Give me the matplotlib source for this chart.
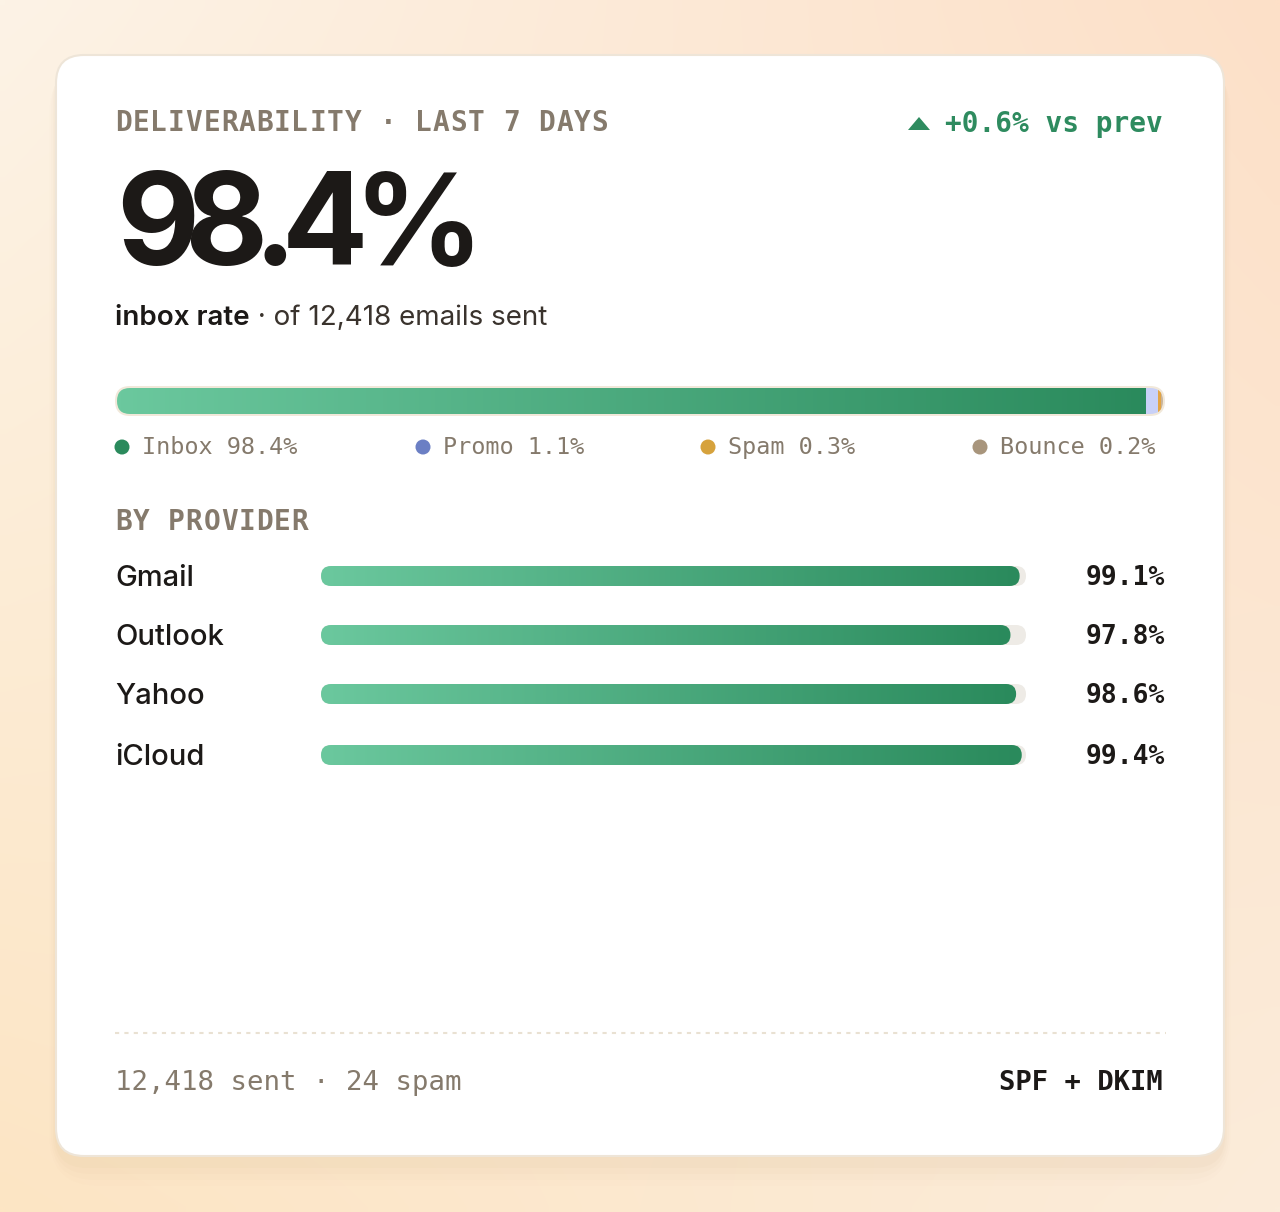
import numpy as np
import matplotlib
matplotlib.use("Agg")
import matplotlib.pyplot as plt
from matplotlib.patches import FancyBboxPatch, Polygon, Circle
from matplotlib.colors import LinearSegmentedColormap

# ---- data ----
headline = "98.4%"
total_sent = "12,418"
change = "+0.6% vs prev"
mix_labels = ["Inbox", "Promo", "Spam", "Bounce"]
mix_values = [98.4, 1.1, 0.3, 0.2]
mix_dot_colors = ["#2a8a5c", "#6b7fc4", "#d6a23c", "#a8957c"]
mix_bar_colors = [None, "#c9d1f7", "#e3a443", "#c9b49a"]
providers = ["Gmail", "Outlook", "Yahoo", "iCloud"]
provider_rates = [99.1, 97.8, 98.6, 99.4]
spam_count = 24

W, H = 1280, 1212
MONO = "DejaVu Sans Mono"
SANS = "Inter"
MUTED = "#857a6c"
INK = "#1c1917"
GREEN_CMAP = LinearSegmentedColormap.from_list("g", ["#6bc89e", "#2a8a5c"])

fig = plt.figure(figsize=(W / 100, H / 100), dpi=100)
ax = fig.add_axes([0, 0, 1, 1])
ax.set_xlim(0, W)
ax.set_ylim(H, 0)
ax.axis("off")
renderer = fig.canvas.get_renderer()

# background warm gradient (4 corners blended)
tl = np.array([252, 243, 230]) / 255
tr = np.array([253, 224, 200]) / 255
bl = np.array([253, 229, 196]) / 255
br = np.array([251, 236, 218]) / 255
yy, xx = np.mgrid[0:1:120j, 0:1:128j]
bg = (tl * ((1 - xx) * (1 - yy))[..., None] + tr * (xx * (1 - yy))[..., None]
      + bl * ((1 - xx) * yy)[..., None] + br * (xx * yy)[..., None])
ax.imshow(bg, extent=[0, W, H, 0], aspect="auto", zorder=0, interpolation="bilinear")

# card shadow + card
cx0, cy0, cx1, cy1 = 56, 55, 1224, 1156
for i, a in enumerate([0.03, 0.025, 0.018, 0.012]):
    g = 4 + i * 6
    ax.add_patch(FancyBboxPatch((cx0 - g * 0.3, cy0 + 8), cx1 - cx0 + g * 0.6, cy1 - cy0 + g,
                                boxstyle=f"round,pad=0,rounding_size={28 + g}",
                                fc="#b08a50", ec="none", alpha=a, zorder=1))
ax.add_patch(FancyBboxPatch((cx0, cy0), cx1 - cx0, cy1 - cy0,
                            boxstyle="round,pad=0,rounding_size=28",
                            fc="white", ec="#eee5d8", lw=1.5, zorder=2))


def tracked(x, y, s, track, ha="left", **kw):
    """draw text char by char with extra letter spacing (px)"""
    widths = []
    for ch in s:
        t = ax.text(0, 0, ch, **kw)
        widths.append(t.get_window_extent(renderer).width)
        t.remove()
    total_w = sum(widths) + track * (len(s) - 1)
    if ha == "right":
        x -= total_w
    for ch, w in zip(s, widths):
        ax.text(x, y, ch, ha="left", va="baseline", zorder=5, **kw)
        x += w + track


def grad_bar(x0, y0, w, h, z=4):
    """rounded bar filled with left-to-right green gradient"""
    clip = FancyBboxPatch((x0, y0), w, h, boxstyle=f"round,pad=0,rounding_size={h / 2}",
                          fc="none", ec="none")
    ax.add_patch(clip)
    im = ax.imshow(np.linspace(0, 1, 256)[None, :], cmap=GREEN_CMAP,
                   extent=[x0, x0 + w, y0 + h, y0], aspect="auto", zorder=z)
    im.set_clip_path(clip)
    return clip


# header
tracked(115, 131, "DELIVERABILITY · LAST 7 DAYS", 0.9, family=MONO, weight="bold",
        fontsize=20, color=MUTED)
ax.add_patch(Polygon([[908, 130], [930, 130], [919, 117]], closed=True,
                     fc="#2e8b5f", ec="none", zorder=5))
ax.text(1163, 132, change, family=MONO, weight="bold", fontsize=20,
        color="#2e8b5f", va="baseline", ha="right", zorder=5)

# headline number (tight tracking)
tracked(116, 265, headline, -14.5, family=SANS, weight="bold", fontsize=92, color=INK)

t1 = ax.text(115, 325, "inbox rate", family=SANS, weight="semibold", fontsize=20,
             color=INK, va="baseline", ha="left", zorder=5)
ax.annotate(f" · of {total_sent} emails sent", xycoords=t1, xy=(1, 0),
            va="bottom", ha="left", family=SANS, fontsize=20, color="#3a332d", zorder=5)

# stacked mix bar
bx0, by0, bw, bh = 117, 388, 1046, 26
ax.add_patch(FancyBboxPatch((115, 386), 1050, 30, boxstyle="round,pad=0,rounding_size=15",
                            fc="#f1e8da", ec="none", zorder=3))
clip = FancyBboxPatch((bx0, by0), bw, bh, boxstyle=f"round,pad=0,rounding_size={bh / 2}",
                      fc="none", ec="none")
ax.add_patch(clip)
total = sum(mix_values)
inbox_w = bw * mix_values[0] / total
im = ax.imshow(np.linspace(0, 1, 256)[None, :], cmap=GREEN_CMAP,
               extent=[bx0, bx0 + inbox_w, by0 + bh, by0], aspect="auto", zorder=4)
im.set_clip_path(clip)
left = bx0 + inbox_w
for v, c in zip(mix_values[1:], mix_bar_colors[1:]):
    w = bw * v / total
    r = ax.barh(by0 + bh / 2, w, height=bh, left=left, color=c, zorder=4)
    r.patches[0].set_clip_path(clip)
    left += w

# mix legend (spread across bar width)
leg_x = [115, 416, 701, 973]
for x, lab, v, c in zip(leg_x, mix_labels, mix_values, mix_dot_colors):
    ax.add_patch(Circle((x + 7, 447), 7.5, fc=c, ec="none", zorder=5))
    ax.text(x + 27, 454, f"{lab} {v:.1f}%", family=MONO, fontsize=16.9, color=MUTED,
            va="baseline", ha="left", zorder=5)

# by provider
tracked(115, 530, "BY PROVIDER", 0.9, family=MONO, weight="bold", fontsize=20, color=MUTED)
row_y = [576, 635, 694, 755]
tx0, tw, th = 321, 705, 20
for y, name, rate in zip(row_y, providers, provider_rates):
    ax.text(115, y + 10, name, family=SANS, weight="medium", fontsize=21,
            color=INK, va="baseline", ha="left", zorder=5)
    ax.add_patch(FancyBboxPatch((tx0, y - th / 2), tw, th,
                                boxstyle=f"round,pad=0,rounding_size={th / 2}",
                                fc="#eeebe6", ec="none", zorder=3))
    grad_bar(tx0, y - th / 2, tw * rate / 100, th)
    ax.text(1165, y + 9, f"{rate:.1f}%", family=MONO, weight="bold", fontsize=19,
            color=INK, va="baseline", ha="right", zorder=5)

# footer
ax.plot([115, 1166], [1033, 1033], color="#e9e1d2", lw=1.5, ls=(0, (2, 2.5)), zorder=5)
ax.text(115, 1090, f"{total_sent} sent · {spam_count} spam", family=MONO, fontsize=19.7,
        color=MUTED, va="baseline", ha="left", zorder=5)
ax.text(1163, 1090, "SPF + DKIM", family=MONO, weight="bold", fontsize=19.5,
        color=INK, va="baseline", ha="right", zorder=5)

fig.savefig("out.png", dpi=100)
